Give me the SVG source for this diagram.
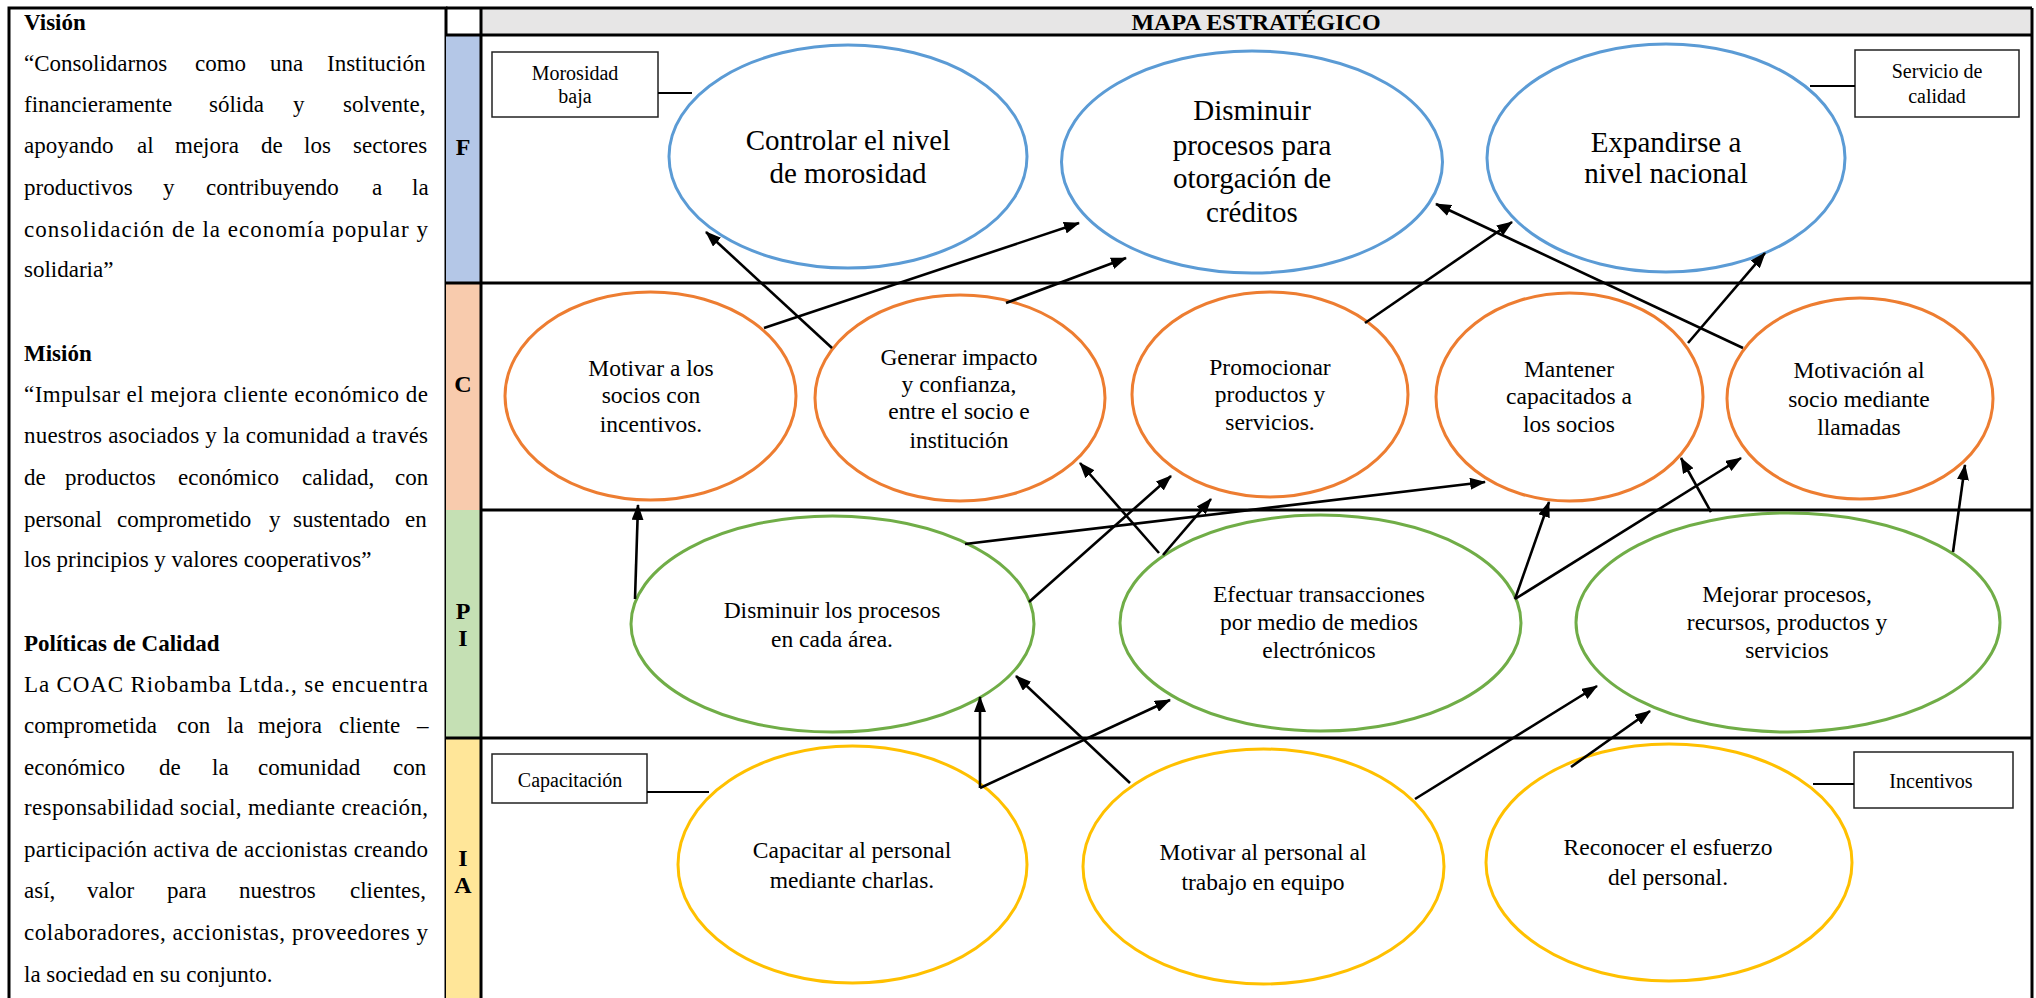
<svg xmlns="http://www.w3.org/2000/svg" width="2036" height="998" viewBox="0 0 2036 998">
<style>
  .serif{font-family:"Liberation Serif","Times New Roman",serif;fill:#000}
  .lp{font-size:23px}
  .hd{font-size:23px;font-weight:bold}
  .let{font-size:24px;font-weight:bold;text-anchor:middle}
  .grid{stroke:#000;stroke-width:3;fill:none}
  .nF{fill:#fff;stroke:#5B9BD5;stroke-width:3}
  .nC{fill:#fff;stroke:#ED7D31;stroke-width:3}
  .nP{fill:#fff;stroke:#70AD47;stroke-width:3}
  .nA{fill:#fff;stroke:#FFC000;stroke-width:3}
  .t29{font-size:29px;text-anchor:middle}
  .t23{font-size:23.5px;text-anchor:middle}
  .tc{font-size:20px;text-anchor:middle}
  .box{fill:#fff;stroke:#222;stroke-width:1.5}
  .cl{stroke:#000;stroke-width:2}
  .arr{stroke:#000;stroke-width:2.6;marker-end:url(#ah)}
</style>
<defs>
  <marker id="ah" viewBox="0 0 16 12" refX="15" refY="6" markerWidth="16" markerHeight="12" markerUnits="userSpaceOnUse" orient="auto">
    <path d="M0,0 L16,6 L0,12 z" fill="#000"/>
  </marker>
</defs>
<rect width="2036" height="998" fill="#fff"/>

<!-- left panel -->
<g id="left-panel">
  <rect x="9" y="8" width="437" height="995" class="grid"/>
  <text class="serif hd" x="24" y="30">Visión</text>
  <text class="serif lp" y="71"><tspan x="24">“Consolidarnos</tspan><tspan x="195">como</tspan><tspan x="270">una</tspan><tspan x="327">Institución</tspan></text>
  <text class="serif lp" y="112"><tspan x="24">financieramente</tspan><tspan x="209">sólida</tspan><tspan x="293">y</tspan><tspan x="343">solvente,</tspan></text>
  <text class="serif lp" y="153"><tspan x="24">apoyando</tspan><tspan x="137">al</tspan><tspan x="175">mejora</tspan><tspan x="261">de</tspan><tspan x="304">los</tspan><tspan x="353">sectores</tspan></text>
  <text class="serif lp" y="195"><tspan x="24">productivos</tspan><tspan x="163">y</tspan><tspan x="206">contribuyendo</tspan><tspan x="372">a</tspan><tspan x="412">la</tspan></text>
  <text class="serif lp" x="24" y="237" textLength="404" lengthAdjust="spacing">consolidación de la economía popular y</text>
  <text class="serif lp" x="24" y="277">solidaria”</text>

  <text class="serif hd" x="24" y="361">Misión</text>
  <text class="serif lp" x="24" y="402" textLength="404" lengthAdjust="spacing">“Impulsar el mejora cliente económico de</text>
  <text class="serif lp" x="24" y="443" textLength="404" lengthAdjust="spacing">nuestros asociados y la comunidad a través</text>
  <text class="serif lp" y="485"><tspan x="24">de</tspan><tspan x="65">productos</tspan><tspan x="178">económico</tspan><tspan x="302">calidad,</tspan><tspan x="395">con</tspan></text>
  <text class="serif lp" y="527"><tspan x="24">personal</tspan><tspan x="117">comprometido</tspan><tspan x="269">y</tspan><tspan x="293">sustentado</tspan><tspan x="405">en</tspan></text>
  <text class="serif lp" x="24" y="567">los principios y valores cooperativos”</text>

  <text class="serif hd" x="24" y="651">Políticas de Calidad</text>
  <text class="serif lp" x="24" y="692" textLength="404" lengthAdjust="spacing">La COAC Riobamba Ltda., se encuentra</text>
  <text class="serif lp" y="733"><tspan x="24">comprometida</tspan><tspan x="177">con</tspan><tspan x="227">la</tspan><tspan x="258">mejora</tspan><tspan x="339">cliente</tspan><tspan x="417">–</tspan></text>
  <text class="serif lp" y="775"><tspan x="24">económico</tspan><tspan x="159">de</tspan><tspan x="212">la</tspan><tspan x="258">comunidad</tspan><tspan x="393">con</tspan></text>
  <text class="serif lp" x="24" y="815" textLength="404" lengthAdjust="spacing">responsabilidad social, mediante creación,</text>
  <text class="serif lp" x="24" y="857" textLength="404" lengthAdjust="spacing">participación activa de accionistas creando</text>
  <text class="serif lp" y="898"><tspan x="24">así,</tspan><tspan x="87">valor</tspan><tspan x="167">para</tspan><tspan x="239">nuestros</tspan><tspan x="350">clientes,</tspan></text>
  <text class="serif lp" x="24" y="940" textLength="404" lengthAdjust="spacing">colaboradores, accionistas, proveedores y</text>
  <text class="serif lp" x="24" y="982">la sociedad en su conjunto.</text>
</g>

<!-- grid / lanes -->
<g id="grid">
  <rect x="481" y="8" width="1551" height="27" fill="#E7E6E6"/>
  <rect x="446" y="35" width="35" height="248" fill="#B4C7E7"/>
  <rect x="446" y="283" width="35" height="227" fill="#F8CBAD"/>
  <rect x="446" y="510" width="35" height="228" fill="#C5E0B4"/>
  <rect x="446" y="738" width="35" height="262" fill="#FFE699"/>
  <line x1="446" y1="8" x2="2032" y2="8" class="grid"/>
  <line x1="446" y1="35" x2="2032" y2="35" class="grid"/>
  <line x1="446" y1="283" x2="2032" y2="283" class="grid"/>
  <line x1="481" y1="510" x2="2032" y2="510" class="grid"/>
  <line x1="446" y1="738" x2="2032" y2="738" class="grid"/>
  <line x1="481" y1="8" x2="481" y2="1000" class="grid"/>
  <line x1="2032" y1="8" x2="2032" y2="1000" class="grid"/>
  <text class="serif" x="1256" y="30" font-size="24" font-weight="bold" text-anchor="middle">MAPA ESTRATÉGICO</text>
  <text class="serif let" x="463" y="155">F</text>
  <text class="serif let" x="463" y="392">C</text>
  <text class="serif let" x="463" y="619">P</text>
  <text class="serif let" x="463" y="646">I</text>
  <text class="serif let" x="463" y="866">I</text>
  <text class="serif let" x="463" y="893">A</text>
</g>

<!-- callouts -->
<g id="callout-morosidad">
  <rect x="492" y="52" width="166" height="65" class="box"/>
  <text class="serif tc" x="575" y="80">Morosidad</text>
  <text class="serif tc" x="575" y="103">baja</text>
  <line x1="658" y1="93" x2="692" y2="93" class="cl"/>
</g>
<g id="callout-servicio">
  <rect x="1855" y="50" width="164" height="67" class="box"/>
  <text class="serif tc" x="1937" y="78">Servicio de</text>
  <text class="serif tc" x="1937" y="103">calidad</text>
  <line x1="1810" y1="86" x2="1855" y2="86" class="cl"/>
</g>
<g id="callout-capacitacion">
  <rect x="492" y="754" width="155" height="49" class="box"/>
  <text class="serif tc" x="570" y="787">Capacitación</text>
  <line x1="647" y1="792" x2="709" y2="792" class="cl"/>
</g>
<g id="callout-incentivos">
  <rect x="1854" y="752" width="159" height="56" class="box"/>
  <text class="serif tc" x="1931" y="788">Incentivos</text>
  <line x1="1813" y1="784" x2="1854" y2="784" class="cl"/>
</g>

<!-- F row -->
<g id="f1">
  <ellipse cx="848" cy="156.5" rx="179" ry="111.5" class="nF"/>
  <text class="serif t29" x="848" y="150">Controlar el nivel</text>
  <text class="serif t29" x="848" y="183">de morosidad</text>
</g>
<g id="f2">
  <ellipse cx="1252" cy="162" rx="190.5" ry="111" class="nF"/>
  <text class="serif t29" x="1252" y="120">Disminuir</text>
  <text class="serif t29" x="1252" y="155">procesos para</text>
  <text class="serif t29" x="1252" y="188">otorgación de</text>
  <text class="serif t29" x="1252" y="222">créditos</text>
</g>
<g id="f3">
  <ellipse cx="1666" cy="158" rx="179" ry="114" class="nF"/>
  <text class="serif t29" x="1666" y="152">Expandirse a</text>
  <text class="serif t29" x="1666" y="183">nivel nacional</text>
</g>

<!-- C row -->
<g id="c1">
  <ellipse cx="650.5" cy="396" rx="145.5" ry="104" class="nC"/>
  <text class="serif t23" x="651" y="376">Motivar a los</text>
  <text class="serif t23" x="651" y="403">socios con</text>
  <text class="serif t23" x="651" y="432">incentivos.</text>
</g>
<g id="c2">
  <ellipse cx="960" cy="398" rx="145" ry="103" class="nC"/>
  <text class="serif t23" x="959" y="365">Generar impacto</text>
  <text class="serif t23" x="959" y="392">y confianza,</text>
  <text class="serif t23" x="959" y="419">entre el socio e</text>
  <text class="serif t23" x="959" y="448">institución</text>
</g>
<g id="c3">
  <ellipse cx="1270" cy="394.5" rx="138" ry="102.5" class="nC"/>
  <text class="serif t23" x="1270" y="375">Promocionar</text>
  <text class="serif t23" x="1270" y="402">productos y</text>
  <text class="serif t23" x="1270" y="430">servicios.</text>
</g>
<g id="c4">
  <ellipse cx="1569.5" cy="397" rx="133.5" ry="104" class="nC"/>
  <text class="serif t23" x="1569" y="377">Mantener</text>
  <text class="serif t23" x="1569" y="404">capacitados a</text>
  <text class="serif t23" x="1569" y="432">los socios</text>
</g>
<g id="c5">
  <ellipse cx="1860" cy="398.5" rx="133" ry="100.5" class="nC"/>
  <text class="serif t23" x="1859" y="378">Motivación al</text>
  <text class="serif t23" x="1859" y="407">socio mediante</text>
  <text class="serif t23" x="1859" y="435">llamadas</text>
</g>

<!-- PI row -->
<g id="p1">
  <ellipse cx="832.5" cy="624" rx="201.5" ry="108" class="nP"/>
  <text class="serif t23" x="832" y="618">Disminuir los procesos</text>
  <text class="serif t23" x="832" y="647">en cada área.</text>
</g>
<g id="p2">
  <ellipse cx="1320.5" cy="623" rx="200.5" ry="108" class="nP"/>
  <text class="serif t23" x="1319" y="602">Efectuar transacciones</text>
  <text class="serif t23" x="1319" y="630">por medio de medios</text>
  <text class="serif t23" x="1319" y="658">electrónicos</text>
</g>
<g id="p3">
  <ellipse cx="1788" cy="622.5" rx="212" ry="109.5" class="nP"/>
  <text class="serif t23" x="1787" y="602">Mejorar procesos,</text>
  <text class="serif t23" x="1787" y="630">recursos, productos y</text>
  <text class="serif t23" x="1787" y="658">servicios</text>
</g>

<!-- IA row -->
<g id="a1">
  <ellipse cx="852.5" cy="864.5" rx="174.5" ry="118.5" class="nA"/>
  <text class="serif t23" x="852" y="858">Capacitar al personal</text>
  <text class="serif t23" x="852" y="888">mediante charlas.</text>
</g>
<g id="a2">
  <ellipse cx="1263.5" cy="866.5" rx="180.5" ry="117.5" class="nA"/>
  <text class="serif t23" x="1263" y="860">Motivar al personal al</text>
  <text class="serif t23" x="1263" y="890">trabajo en equipo</text>
</g>
<g id="a3">
  <ellipse cx="1669" cy="862.5" rx="183" ry="118.5" class="nA"/>
  <text class="serif t23" x="1668" y="855">Reconocer el esfuerzo</text>
  <text class="serif t23" x="1668" y="885">del personal.</text>
</g>

<!-- connectors -->
<g id="connectors">
  <line class="arr" x1="832" y1="348" x2="706" y2="232"/>
  <line class="arr" x1="764" y1="328" x2="1079" y2="223"/>
  <line class="arr" x1="1006" y1="303" x2="1126" y2="258"/>
  <line class="arr" x1="1365" y1="323" x2="1512" y2="222"/>
  <line class="arr" x1="1743" y1="348" x2="1436" y2="204"/>
  <line class="arr" x1="1688" y1="343" x2="1765" y2="253"/>
  <line class="arr" x1="635" y1="599" x2="638" y2="505"/>
  <line class="arr" x1="1029" y1="602" x2="1171" y2="476"/>
  <line class="arr" x1="965" y1="544" x2="1485" y2="482"/>
  <line class="arr" x1="1159" y1="553" x2="1080" y2="463"/>
  <line class="arr" x1="1163" y1="555" x2="1211" y2="499"/>
  <line class="arr" x1="1515" y1="599" x2="1549" y2="502"/>
  <line class="arr" x1="1515" y1="599" x2="1741" y2="458"/>
  <line class="arr" x1="1711" y1="512" x2="1681" y2="458"/>
  <line class="arr" x1="1953" y1="552" x2="1965" y2="465"/>
  <line class="arr" x1="980" y1="788" x2="980" y2="697"/>
  <line class="arr" x1="980" y1="788" x2="1170" y2="700"/>
  <line class="arr" x1="1130" y1="783" x2="1016" y2="676"/>
  <line class="arr" x1="1415" y1="799" x2="1597" y2="686"/>
  <line class="arr" x1="1571" y1="767" x2="1650" y2="711"/>
</g>
</svg>
